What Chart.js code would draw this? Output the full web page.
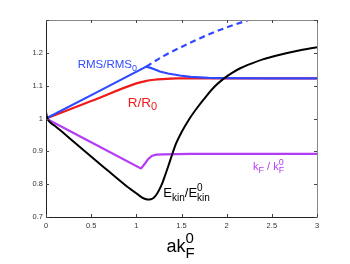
<!DOCTYPE html>
<html><head><meta charset="utf-8">
<script src="https://cdn.jsdelivr.net/npm/chart.js@4.4.1/dist/chart.umd.min.js"></script>
<style>html,body{margin:0;padding:0;background:#fff}#wrap{width:350px;height:264px}</style>
</head><body><div id="wrap"><canvas id="c" width="350" height="264"></canvas></div>
<script>
const xTicks = [0, 0.5, 1, 1.5, 2, 2.5, 3];
const yTicks = [0.7, 0.8, 0.9, 1, 1.1, 1.2, 1.3];

const ekinX = [0, 0.01, 0.03, 0.06, 0.1, 0.3, 0.6, 0.9, 0.97, 1.02, 1.06, 1.1, 1.13, 1.16, 1.19, 1.22, 1.25, 1.29, 1.32, 1.36, 1.39, 1.44, 1.5, 1.59, 1.68, 1.78, 1.87, 1.96, 2.06, 2.15, 2.28, 2.4, 2.59, 2.8, 3.0];
const ekinY = [1.02, 1.005, 0.993, 0.985, 0.977, 0.931, 0.861, 0.792, 0.778, 0.768, 0.760, 0.755, 0.753, 0.754, 0.758, 0.767, 0.781, 0.805, 0.828, 0.86, 0.885, 0.924, 0.958, 1.0, 1.035, 1.07, 1.098, 1.12, 1.139, 1.153, 1.168, 1.18, 1.194, 1.207, 1.217];

const rmsX = [0, 0.55, 1.11, 1.15, 1.2, 1.26, 1.35, 1.48, 1.6, 1.8, 2.0, 2.5, 3.0];
const rmsY = [1.0, 1.078, 1.158, 1.155, 1.150, 1.143, 1.137, 1.131, 1.127, 1.124, 1.123, 1.122, 1.122];

const rmsExtX = [1.11, 1.3, 1.5, 1.7, 1.9, 2.1, 2.3];
const rmsExtY = [1.158, 1.19, 1.218, 1.244, 1.267, 1.287, 1.305];

const rX = [0, 0.5, 1.0, 1.04, 1.1, 1.2, 1.3, 1.45, 2.0, 3.0];
const rY = [1.0, 1.053, 1.107, 1.110, 1.114, 1.118, 1.120, 1.122, 1.122, 1.122];

const kfX = [0, 0.5, 1.05, 1.07, 1.096, 1.13, 1.17, 1.22, 1.3, 1.6, 3.0];
const kfY = [1.0, 0.9276, 0.848, 0.854, 0.863, 0.876, 0.886, 0.890, 0.891, 0.892, 0.892];

function pts(xs, ys){ return xs.map((x,i)=>({x:x, y:ys[i]})); }

const BLUE = '#3048ff', RED = '#f01a1a', PURPLE = '#b43cf6', BLACK = '#000';
const FONT = '"Liberation Sans", Arial, Helvetica, sans-serif';

function drawRich(ctx, x, y, parts, color){
  ctx.save();
  ctx.fillStyle = color;
  ctx.textBaseline = 'alphabetic';
  ctx.textAlign = 'left';
  let cx = x;
  for (const p of parts){
    if (p.t !== undefined){
      ctx.font = p.size + 'px ' + FONT;
      ctx.fillText(p.t, cx, y + (p.dy||0));
      cx += ctx.measureText(p.t).width;
    } else {
      let w = 0;
      if (p.sup){ ctx.font = p.supSize + 'px ' + FONT; ctx.fillText(p.sup, cx, y + p.supDy); w = Math.max(w, ctx.measureText(p.sup).width); }
      if (p.sub){ ctx.font = p.subSize + 'px ' + FONT; ctx.fillText(p.sub, cx, y + p.subDy); w = Math.max(w, ctx.measureText(p.sub).width); }
      cx += w;
    }
  }
  ctx.restore();
}

const framePlugin = {
  id: 'frame',
  afterDraw(chart){
    const ctx = chart.ctx, a = chart.chartArea;
    const xs = chart.scales.x, ys = chart.scales.y;
    ctx.save();
    ctx.lineWidth = 1;
    ctx.strokeStyle = '#888';
    ctx.beginPath();
    ctx.moveTo(a.left, a.top + 0.5); ctx.lineTo(a.right + 0.5, a.top + 0.5); ctx.lineTo(a.right + 0.5, a.bottom);
    ctx.stroke();
    ctx.strokeStyle = '#222';
    ctx.beginPath();
    ctx.moveTo(a.left + 0.5, a.top); ctx.lineTo(a.left + 0.5, a.bottom + 0.5); ctx.lineTo(a.right + 0.5, a.bottom + 0.5);
    ctx.stroke();
    const L = 3;
    ctx.strokeStyle = '#444';
    ctx.beginPath();
    for (const v of xTicks){
      const px = Math.round(xs.getPixelForValue(v)) + 0.5;
      ctx.moveTo(px, a.bottom); ctx.lineTo(px, a.bottom - L);
      ctx.moveTo(px, a.top); ctx.lineTo(px, a.top + L);
    }
    for (const v of yTicks){
      const py = Math.round(ys.getPixelForValue(v)) + 0.5;
      ctx.moveTo(a.left, py); ctx.lineTo(a.left + L, py);
      ctx.moveTo(a.right, py); ctx.lineTo(a.right - L, py);
    }
    ctx.stroke();
    ctx.restore();

    const X = v => xs.getPixelForValue(v), Y = v => ys.getPixelForValue(v);
    drawRich(ctx, X(0.351), Y(1.154), [{t:'RMS/RMS', size:11.5}, {sub:'0', subSize:9, subDy:3}], BLUE);
    drawRich(ctx, X(0.904), Y(1.035), [{t:'R/R', size:13.5}, {sub:'0', subSize:11, subDy:3}], RED);
    drawRich(ctx, X(2.292), Y(0.843), [{t:'k', size:11}, {sub:'F', subSize:9, subDy:3}, {t:' / k', size:11}, {sup:'0', supSize:9, supDy:-5, sub:'F', subSize:9, subDy:3}], PURPLE);
    drawRich(ctx, X(1.299), Y(0.760), [{t:'E', size:13}, {sub:'kin', subSize:10, subDy:4}, {t:'/E', size:13}, {sup:'0', supSize:10, supDy:-6, sub:'kin', subSize:10, subDy:4}], BLACK);
    drawRich(ctx, 166.5, 252, [{t:'ak', size:18}, {sup:'0', supSize:15, supDy:-9, sub:'F', subSize:15, subDy:6}], '#000');
  }
};

const tickFont = {family: FONT, size: 7.5};

new Chart(document.getElementById('c'), {
  type: 'line',
  data: {
    datasets: [
      {data: pts(ekinX, ekinY), borderColor: BLACK, borderWidth: 2, pointRadius: 0, cubicInterpolationMode: 'monotone', order: 0},
      {data: pts(kfX, kfY), borderColor: PURPLE, borderWidth: 2.2, pointRadius: 0, tension: 0, order: 1},
      {data: pts(rmsX, rmsY), borderColor: BLUE, borderWidth: 2.2, pointRadius: 0, tension: 0, order: 2},
      {data: pts(rmsExtX, rmsExtY), borderColor: BLUE, borderWidth: 2.2, borderDash: [6,4], pointRadius: 0, cubicInterpolationMode: 'monotone', order: 3},
      {data: pts(rX, rY), borderColor: RED, borderWidth: 2.2, pointRadius: 0, cubicInterpolationMode: 'monotone', order: 4}
    ]
  },
  options: {
    responsive: false,
    animation: false,
    devicePixelRatio: 1,
    layout: {padding: {left: 0, right: 33, top: 20, bottom: 0}},
    plugins: {legend: {display: false}, tooltip: {enabled: false}},
    scales: {
      x: {
        type: 'linear', min: 0, max: 3,
        afterBuildTicks(s){ s.ticks = xTicks.map(v => ({value: v})); },
        afterFit(s){ s.height = 47; },
        grid: {display: false, drawTicks: false},
        border: {display: false},
        ticks: {font: tickFont, color: '#333', padding: 4, maxRotation: 0, autoSkip: false,
          callback: v => String(Math.round(v*10)/10)}
      },
      y: {
        type: 'linear', min: 0.7, max: 1.3,
        afterBuildTicks(s){ s.ticks = yTicks.map(v => ({value: v})); },
        afterFit(s){ s.width = 46; },
        grid: {display: false, drawTicks: false},
        border: {display: false},
        ticks: {font: tickFont, color: '#333', padding: 3, autoSkip: false,
          callback: v => v > 1.25 ? '' : String(Math.round(v*10)/10)}
      }
    }
  },
  plugins: [framePlugin]
});
</script>
</body></html>
